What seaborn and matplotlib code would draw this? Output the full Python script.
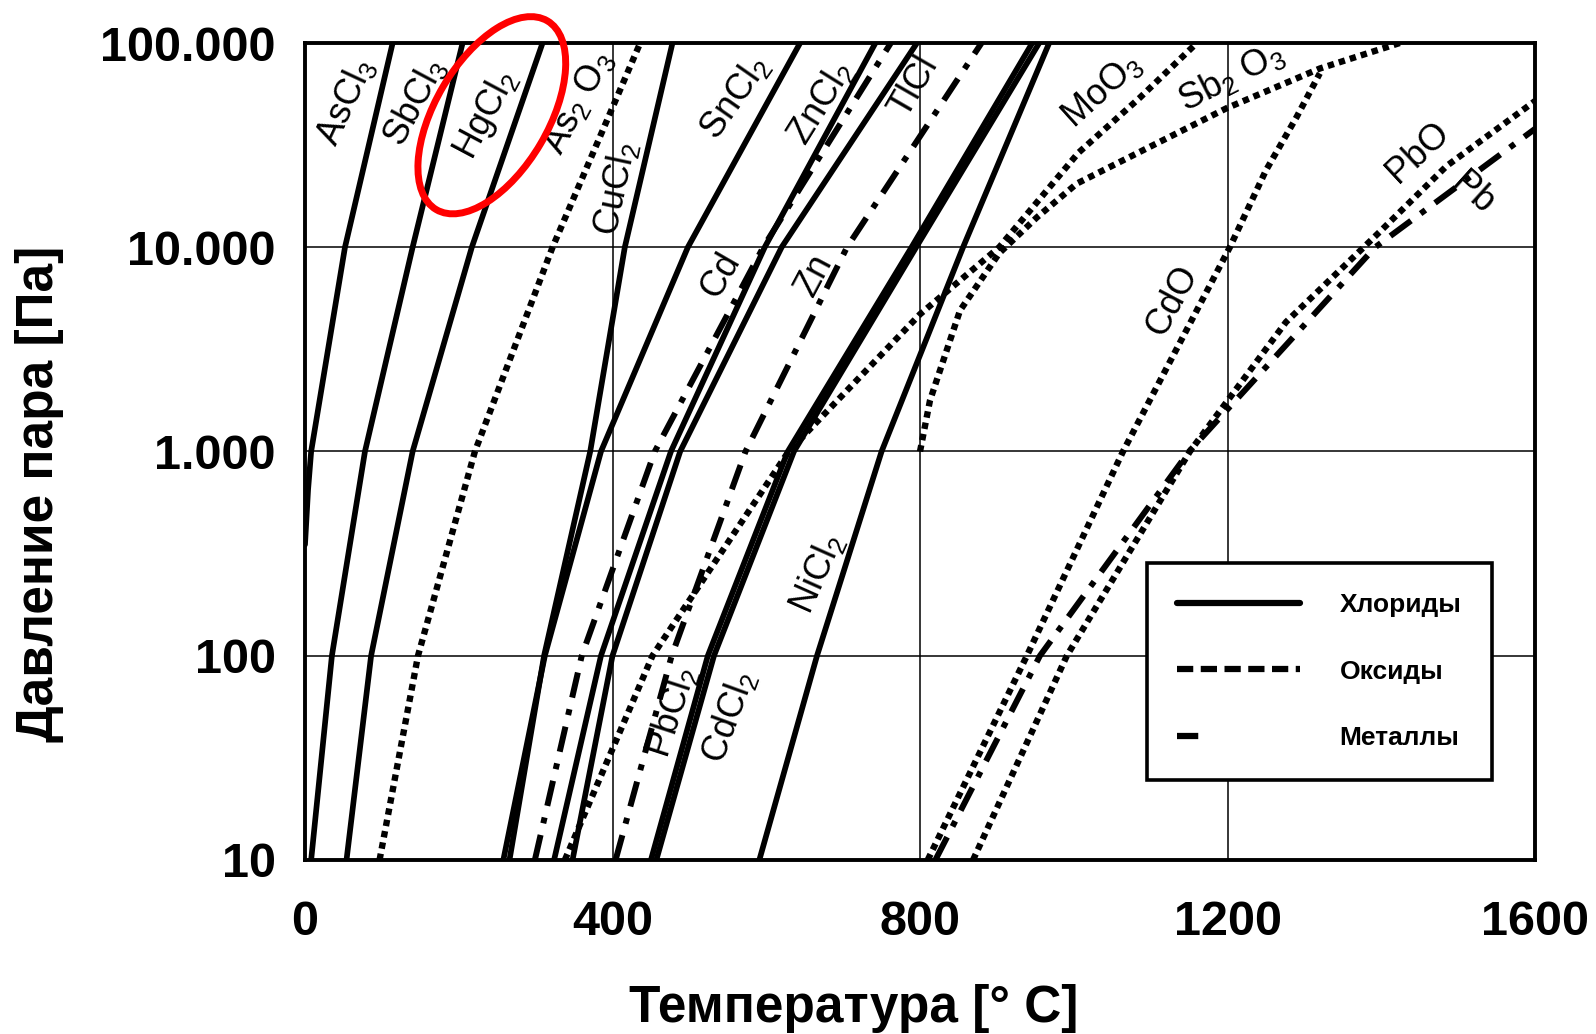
import numpy as np
import pandas as pd
import seaborn as sns
import matplotlib
matplotlib.use('Agg')
import matplotlib.pyplot as plt
import matplotlib.transforms as mtransforms
from matplotlib.lines import Line2D
from matplotlib.patches import Ellipse

# vapour pressure curves, temperature in °C, pressure in Pa
decades = [10, 100, 1000, 10000, 100000]

# ---- chlorides (solid) ----
ascl3_t = [0, 4, 8, 52, 114]
ascl3_p = [350, 650, 1000, 10000, 100000]
sbcl3_t = [8, 35, 78, 140, 205]
hgcl2_t = [54, 86, 140, 217, 309]
cucl2_t = [266, 311, 371, 416, 478]
sncl2_t = [258, 312, 385, 498, 644]
zncl2_t = [324, 385, 476, 598, 742]
tlcl_t = [348, 400, 488, 620, 796]
pbcl2_t = [450, 524, 628, 789, 946]
cdcl2_t = [457, 532, 636, 795, 955]
nicl2_t = [591, 666, 750, 856, 968]

# ---- oxides (dotted) ----
as2o3_t = [97, 147, 221, 322, 436]
moo3_t = [338, 452, 629, 800, 903, 1006, 1086, 1160]
moo3_p = [10, 100, 1000, 4700, 10000, 29000, 54000, 100000]
sb2o3_t = [800, 813, 852, 903, 952, 1004, 1199, 1320, 1424]
sb2o3_p = [1000, 1780, 4900, 9350, 14000, 20500, 48000, 75000, 100000]
cdo_t = [810, 939, 1064, 1203, 1250, 1290, 1320]
cdo_p = [10, 100, 1000, 10000, 23800, 43500, 71000]
pbo_t = [869, 991, 1151, 1276, 1399, 1485, 1600]
pbo_p = [10, 100, 1000, 4300, 12000, 25000, 52000]

# ---- metals (dash-dot) ----
cd_t = [299, 360, 455, 596, 762]
zn_t = [404, 477, 573, 705, 880]
pb_t = [820, 956, 1150, 1392, 1600]
pb_p = [10, 100, 1000, 10000, 38000]

curves = [
    ('AsCl3', ascl3_t, ascl3_p, 'cl'), ('SbCl3', sbcl3_t, decades, 'cl'),
    ('HgCl2', hgcl2_t, decades, 'cl'), ('CuCl2', cucl2_t, decades, 'cl'),
    ('SnCl2', sncl2_t, decades, 'cl'), ('ZnCl2', zncl2_t, decades, 'cl'),
    ('TlCl', tlcl_t, decades, 'cl'), ('PbCl2', pbcl2_t, decades, 'cl'),
    ('CdCl2', cdcl2_t, decades, 'cl'), ('NiCl2', nicl2_t, decades, 'cl'),
    ('As2O3', as2o3_t, decades, 'ox'), ('MoO3', moo3_t, moo3_p, 'ox'),
    ('Sb2O3', sb2o3_t, sb2o3_p, 'ox'), ('CdO', cdo_t, cdo_p, 'ox'),
    ('PbO', pbo_t, pbo_p, 'ox'),
    ('Cd', cd_t, decades, 'me'), ('Zn', zn_t, decades, 'me'), ('Pb', pb_t, pb_p, 'me'),
]

rows = []
for name, t, p, kind in curves:
    for ti, pi in zip(t, p):
        rows.append((name, kind, ti, pi))
df = pd.DataFrame(rows, columns=['name', 'kind', 'T', 'P'])

# curve labels: text, T, P, rotation
labels = [
    (r'AsCl$_3$', 53, 51400, 65), (r'SbCl$_3$', 143, 51400, 62),
    (r'HgCl$_2$', 236, 44800, 62), (r'As$_2$ O$_3$', 355, 51400, 62),
    (r'CuCl$_2$', 404, 19400, 78), (r'SnCl$_2$', 559, 54500, 55),
    (r'ZnCl$_2$', 670, 51400, 58), ('TlCl', 792, 61100, 60),
    (r'MoO$_3$', 1037, 59000, 42), (r'Sb$_2$ O$_3$', 1205, 68500, 27),
    ('Cd', 540, 7300, 60), ('Zn', 662, 7300, 62), ('CdO', 1128, 5500, 62),
    ('PbO', 1448, 29000, 43), ('Pb', 1519, 18300, -42),
    (r'NiCl$_2$', 666, 254, 66), (r'PbCl$_2$', 477, 53, 72), (r'CdCl$_2$', 551, 50, 70),
]

legend_labels = ['Хлориды', 'Оксиды', 'Металлы']
xticks = [0, 400, 800, 1200, 1600]
yticks = [10, 100, 1000, 10000, 100000]
ytick_labels = ['10', '100', '1.000', '10.000', '100.000']

sns.set_style('white')
plt.rcParams['font.family'] = ['Liberation Sans', 'DejaVu Sans']
plt.rcParams['mathtext.fontset'] = 'custom'
plt.rcParams['mathtext.rm'] = 'Liberation Sans'
plt.rcParams['mathtext.it'] = 'Liberation Sans'
plt.rcParams['mathtext.default'] = 'regular'
plt.rcParams['text.color'] = 'black'
plt.rcParams['axes.labelcolor'] = 'black'
plt.rcParams['xtick.color'] = 'black'
plt.rcParams['ytick.color'] = 'black'

fig = plt.figure(figsize=(15.96, 10.34), dpi=100)
ax = fig.add_axes([0.1911, 0.1683, 0.7707, 0.7901])

styles = {
    'cl': dict(lw=4.1, linestyle='-'),
    'ox': dict(lw=4.6, linestyle=(0, (1.0, 0.8))),
    'me': dict(lw=4.3, linestyle=(0, (4.3, 2.0, 1.0, 2.0))),
}
for name, t, p, kind in curves:
    sub = df[df['name'] == name]
    sns.lineplot(data=sub, x='T', y='P', color='black', sort=False, estimator=None,
                 ax=ax, zorder=3, **styles[kind])

ax.set_yscale('log')
ax.set_xlim(0, 1600)
ax.set_ylim(10, 100000)
ax.minorticks_off()
ax.set_xticks(xticks)
ax.set_xticklabels([str(x) for x in xticks])
ax.set_yticks(yticks)
ax.set_yticklabels(ytick_labels)
ax.tick_params(axis='both', length=0, labelsize=35, labelcolor='black')
ax.tick_params(axis='x', pad=29)
ax.tick_params(axis='y', pad=21)
for lab in ax.get_xticklabels() + ax.get_yticklabels():
    lab.set_fontweight('bold')
ax.grid(True, which='major', color='black', lw=1.1)
ax.set_axisbelow(True)
for s in ax.spines.values():
    s.set_color('black')
    s.set_linewidth(2.8)

ax.set_xlabel('Температура [° C]', fontsize=37, fontweight='bold', color='black')
ax.set_ylabel('Давление пара [Па]', fontsize=37, fontweight='bold', color='black')
ax.xaxis.set_label_coords(0.446, -0.152)
ax.yaxis.set_label_coords(-0.196, 0.448)

for txt, t, p, rot in labels:
    ax.text(t, p, txt, fontsize=26, rotation=rot, ha='center', va='center',
            rotation_mode='anchor', color='black', zorder=5)

# legend
h_cl = Line2D([], [], color='black', lw=4.5)
h_ox = Line2D([], [], color='black', lw=4.5, dashes=(2.6, 1.2))
h_me = Line2D([], [], color='black', lw=4.5, dashes=(3.4, 40))
leg = ax.legend([h_cl, h_ox, h_me], legend_labels, loc='upper left',
                bbox_to_anchor=(0.6846, 0.3635), borderaxespad=0,
                handlelength=4.65, handletextpad=1.5, labelspacing=1.6,
                borderpad=1.15, frameon=True, fancybox=False, framealpha=1,
                edgecolor='black', prop={'weight': 'bold', 'size': 19})
leg.get_frame().set_linewidth(2.6)
for t in leg.get_texts():
    t.set_color('black')
leg.set_zorder(6)

# red ellipse round the HgCl2 label
offset = mtransforms.ScaledTranslation(243, 44300, ax.transData)
ell = Ellipse((0, 0), width=2.19, height=1.13, angle=59.5, fill=False,
              edgecolor='#ff0000', lw=5, transform=fig.dpi_scale_trans + offset,
              clip_on=False, zorder=10)
ax.add_patch(ell)

fig.savefig('out.png', dpi=100)
